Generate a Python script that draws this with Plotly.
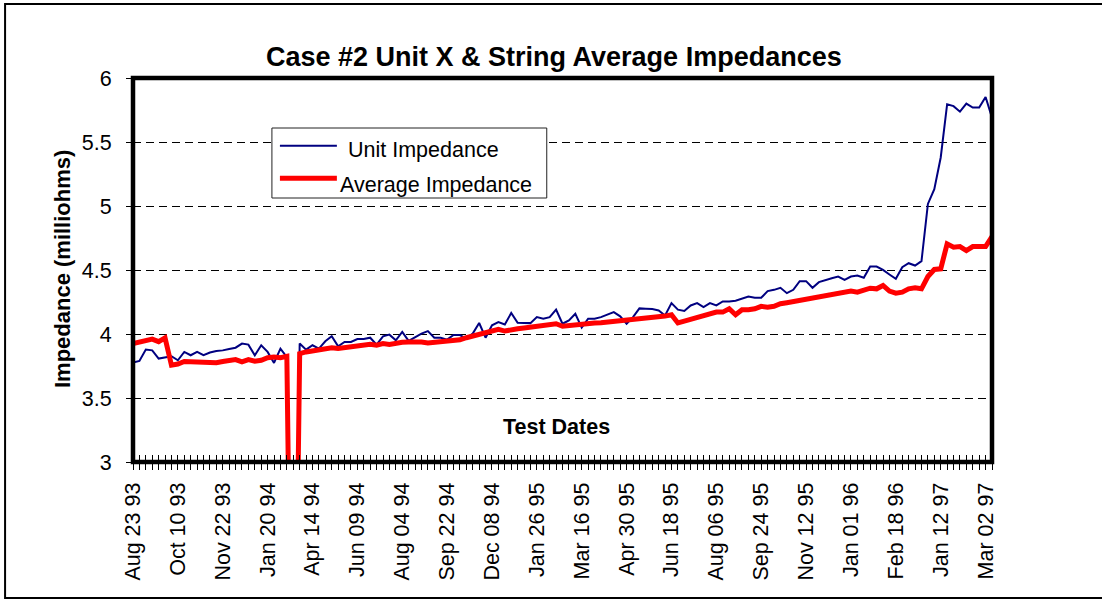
import plotly.graph_objects as go

# ---------------- data ----------------
n_points = 135
x_index = list(range(n_points))

tick_positions = list(range(0, n_points, 7))
tick_labels = ["Aug 23 93", "Oct 10 93", "Nov 22 93", "Jan 20 94", "Apr 14 94",
               "Jun 09 94", "Aug 04 94", "Sep 22 94", "Dec 08 94", "Jan 26 95",
               "Mar 16 95", "Apr 30 95", "Jun 18 95", "Aug 06 95", "Sep 24 95",
               "Nov 12 95", "Jan 01 96", "Feb 18 96", "Jan 12 97", "Mar 02 97"]

unit_impedance = [
    3.777, 3.79, 3.878, 3.872, 3.808, 3.82, 3.826, 3.795, 3.86, 3.834,
    3.86, 3.834, 3.855, 3.867, 3.872, 3.883, 3.893, 3.925, 3.917, 3.834,
    3.912, 3.86, 3.774, 3.886, 3.82, 0.0, 3.925, 3.878, 3.912, 3.886,
    3.943, 3.982, 3.904, 3.938, 3.938, 3.961, 3.961, 3.971, 3.917, 3.982,
    3.995, 3.951, 4.016, 3.946, 3.977, 4.003, 4.023, 3.971, 3.971, 3.956,
    3.992, 3.992, 3.964, 4.003, 4.086, 3.971, 4.068, 4.093, 4.075, 4.164,
    4.088, 4.088, 4.085, 4.132, 4.12, 4.132, 4.19, 4.08, 4.106, 4.158,
    4.05, 4.119, 4.119, 4.132, 4.153, 4.171, 4.138, 4.08, 4.132, 4.2,
    4.197, 4.195, 4.184, 4.145, 4.241, 4.19, 4.18, 4.223, 4.241, 4.21,
    4.241, 4.223, 4.254, 4.254, 4.26, 4.275, 4.293, 4.283, 4.283, 4.335,
    4.345, 4.361, 4.319, 4.345, 4.413, 4.413, 4.361, 4.405, 4.423, 4.436,
    4.449, 4.423, 4.449, 4.457, 4.439, 4.527, 4.527, 4.501, 4.465, 4.431,
    4.522, 4.553, 4.535, 4.569, 5.016, 5.132, 5.379, 5.795, 5.78, 5.737,
    5.8, 5.769, 5.769, 5.852, 5.69,
]

average_impedance = [
    3.925, 3.935, 3.948, 3.96, 3.94, 3.97, 3.756, 3.765, 3.785, 3.782,
    3.78, 3.78, 3.78, 3.775, 3.785, 3.795, 3.80, 3.782, 3.80, 3.787,
    3.795, 3.815, 3.82, 3.815, 3.826, 0.0, 3.847, 3.86, 3.868, 3.873,
    3.886, 3.893, 3.886, 3.893, 3.899, 3.904, 3.912, 3.919, 3.912, 3.925,
    3.919, 3.93, 3.935, 3.938, 3.94, 3.938, 3.93, 3.935, 3.938, 3.938,
    3.945, 3.955, 3.971, 3.982, 3.998, 4.008, 4.023, 4.036, 4.023, 4.036,
    4.041, 4.047, 4.054, 4.062, 4.067, 4.072, 4.08, 4.06, 4.067, 4.073,
    4.075, 4.086, 4.086, 4.088, 4.093, 4.1, 4.106, 4.111, 4.116, 4.119,
    4.124, 4.124, 4.132, 4.14, 4.15, 4.086, 4.1, 4.115, 4.13, 4.145,
    4.163, 4.171, 4.171, 4.197, 4.15, 4.19, 4.19, 4.197, 4.216, 4.21,
    4.216, 4.236, 4.244, 4.254, 4.262, 4.267, 4.28, 4.288, 4.301, 4.314,
    4.319, 4.325, 4.335, 4.327, 4.34, 4.358, 4.353, 4.379, 4.335, 4.319,
    4.327, 4.353, 4.361, 4.353, 4.449, 4.504, 4.509, 4.704, 4.678, 4.683,
    4.652, 4.683, 4.683, 4.683, 4.761,
]

series_names = ["Unit Impedance", "Average Impedance"]
title_text = "Case #2 Unit X &amp; String Average Impedances"
y_title = "Impedance (milliohms)"
x_title = "Test Dates"

# ---------------- styling ----------------
FONT = "Liberation Sans, Arial, sans-serif"
BLUE = "#000080"
RED = "#FF0000"

W, H = 1102, 599
L, R, T, B = 133, 992.5, 78, 462  # plot area in px
pw, ph = R - L, B - T


def px(xp):
    return (xp - L) / pw


def py(yp):
    return (B - yp) / ph


fig = go.Figure()
fig.add_trace(go.Scatter(x=x_index, y=unit_impedance, mode="lines",
                         name=series_names[0], line=dict(color=BLUE, width=2),
                         showlegend=False, xaxis="x", yaxis="y"))
fig.add_trace(go.Scatter(x=x_index, y=average_impedance, mode="lines",
                         name=series_names[1], line=dict(color=RED, width=5),
                         showlegend=False, xaxis="x2", yaxis="y"))

fig.update_layout(
    width=W, height=H,
    margin=dict(l=L, r=W - R, t=T, b=H - B, autoexpand=False),
    paper_bgcolor="white", plot_bgcolor="white",
    font=dict(family=FONT, size=21.5, color="black"),
    xaxis=dict(range=[0, n_points - 1], tickmode="array",
               tickvals=tick_positions, ticktext=tick_labels, tickangle=-90,
               ticks="outside", ticklen=7, tickcolor="black", tickwidth=1,
               minor=dict(tickmode="linear", tick0=0, dtick=1, ticks="outside",
                          ticklen=7, tickcolor="black", tickwidth=1),
               showgrid=False, showline=False, zeroline=False,
               tickfont=dict(family=FONT, size=21.5, color="black"),
               ticklabelstandoff=4),
    xaxis2=dict(range=[0, n_points - 1], overlaying="x", anchor="y", side="bottom",
                matches="x", tickmode="linear", tick0=0, dtick=1, ticks="inside",
                ticklen=7, tickcolor="black", tickwidth=1, showticklabels=False,
                showgrid=False, showline=False, zeroline=False),
    yaxis=dict(range=[3, 6], tick0=3, dtick=0.5, ticks="outside", ticklen=6,
               tickcolor="black", showline=False, zeroline=False,
               showgrid=True, gridcolor="black", gridwidth=1, griddash="8px,5px",
               tickfont=dict(family=FONT, size=21.5, color="black"),
               ticklabelstandoff=10),
)

shapes = [
    # outer frame
    dict(type="rect", xref="paper", yref="paper", x0=px(5), x1=px(1108),
         y0=py(598), y1=py(4), line=dict(color="black", width=2), layer="below"),
    # thick plot border
    dict(type="rect", xref="paper", yref="paper", x0=0, x1=1, y0=0, y1=1,
         line=dict(color="black", width=4.5), layer="above"),
    # legend box
    dict(type="rect", xref="paper", yref="paper", x0=px(272), x1=px(547),
         y0=py(198), y1=py(128), line=dict(color="#222222", width=1),
         fillcolor="white", layer="above"),
    dict(type="line", xref="paper", yref="paper", x0=px(280), x1=px(337),
         y0=py(145.7), y1=py(145.7), line=dict(color=BLUE, width=2), layer="above"),
    dict(type="line", xref="paper", yref="paper", x0=px(280), x1=px(337),
         y0=py(178.3), y1=py(178.3), line=dict(color=RED, width=5), layer="above"),
]
fig.update_layout(shapes=shapes)

annotations = [
    dict(text="<b>" + title_text + "</b>", xref="paper", yref="paper",
         x=px(554), y=py(57), xanchor="center", yanchor="middle", showarrow=False,
         font=dict(family=FONT, size=27, color="black")),
    dict(text="<b>" + y_title + "</b>", xref="paper", yref="paper",
         x=px(62), y=py(269), xanchor="center", yanchor="middle", showarrow=False,
         textangle=-90, font=dict(family=FONT, size=22, color="black")),
    dict(text="<b>" + x_title + "</b>", xref="paper", yref="paper",
         x=px(557), y=py(427), xanchor="center", yanchor="middle", showarrow=False,
         font=dict(family=FONT, size=21.5, color="black")),
    dict(text=series_names[0], xref="paper", yref="paper",
         x=px(346), y=py(150), xanchor="left", yanchor="middle", showarrow=False,
         font=dict(family=FONT, size=21.5, color="black")),
    dict(text=series_names[1], xref="paper", yref="paper",
         x=px(338), y=py(185), xanchor="left", yanchor="middle", showarrow=False,
         font=dict(family=FONT, size=21.5, color="black")),
]
fig.update_layout(annotations=annotations)

fig.write_html("out.html",
               config={"displayModeBar": False},
               post_script="document.body.style.margin='0';document.body.style.overflow='hidden';")
